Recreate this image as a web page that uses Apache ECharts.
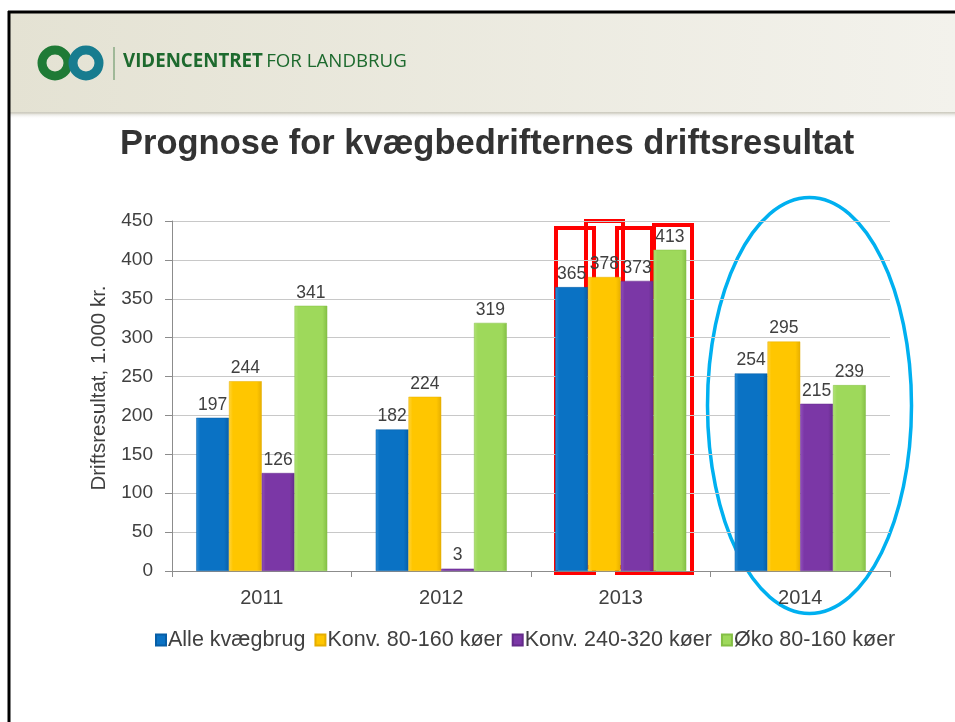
<!DOCTYPE html>
<html>
<head>
<meta charset="utf-8">
<script src="https://cdn.jsdelivr.net/npm/echarts@6/dist/echarts.min.js"></script>
<style>
html, body { margin: 0; padding: 0; background: #fff; }
#chart { width: 955px; height: 722px; }
</style>
</head>
<body>
<div id="chart"></div>
<script>
// data
var years = ['2011', '2012', '2013', '2014'];
var seriesNames = ['Alle kvægbrug', 'Konv. 80-160 køer', 'Konv. 240-320 køer', 'Øko 80-160 køer'];
var alleKvaegbrug = [197, 182, 365, 254];
var konv80 = [244, 224, 378, 295];
var konv240 = [126, 3, 373, 215];
var oko80 = [341, 319, 413, 239];
var yTicks = [0, 50, 100, 150, 200, 250, 300, 350, 400, 450];

var colors = [
    ['#2b8fd9', '#0a72c4', '#075ea6'],
    ['#ffd43a', '#ffc600', '#e6ae00'],
    ['#9050bb', '#7b37a6', '#642b8a'],
    ['#b0e274', '#9ed95b', '#84bf45']
];

function grad(c) {
    return new echarts.graphic.LinearGradient(0, 0, 1, 0, [
        {offset: 0, color: c[0]},
        {offset: 0.12, color: c[1]},
        {offset: 0.85, color: c[1]},
        {offset: 1, color: c[2]}
    ]);
}

var values = [alleKvaegbrug, konv80, konv240, oko80];
var font = 'Liberation Sans, Arial, sans-serif';

var series = values.map(function (v, i) {
    return {
        name: seriesNames[i],
        type: 'bar',
        data: v,
        barGap: '0%',
        barCategoryGap: '27%',
        itemStyle: {color: grad(colors[i]), borderColor: colors[i][2], borderWidth: 0.5},
        label: {
            show: true,
            position: 'top',
            distance: 4,
            fontFamily: font,
            fontSize: 17.5,
            color: '#404040'
        }
    };
});

var chart = echarts.init(document.getElementById('chart'));
var option = {
    backgroundColor: '#fff',
    animation: false,
    color: colors.map(function (c) { return c[1]; }),
    title: {
        text: 'Prognose for kvægbedrifternes driftsresultat',
        left: 115,
        top: 122,
        textStyle: {fontFamily: font, fontSize: 34.5, fontWeight: 'bold', color: '#333333'}
    },
    grid: {left: 172, right: 65, top: 221, bottom: 151, containLabel: false},
    legend: {
        data: seriesNames,
        top: 624,
        left: 150,
        itemWidth: 10,
        itemHeight: 11,
        itemGap: 9,
        icon: 'rect',
        textStyle: {fontFamily: font, fontSize: 21.5, color: '#404040', padding: [0, 0, 0, -3]}
    },
    xAxis: {
        type: 'category',
        data: years,
        axisLine: {lineStyle: {color: '#8c8c8c'}},
        axisTick: {show: true, length: 6, lineStyle: {color: '#8c8c8c'}},
        axisLabel: {fontFamily: font, fontSize: 20, color: '#404040', margin: 17}
    },
    yAxis: {
        type: 'value',
        min: 0,
        max: 450,
        interval: 50,
        name: 'Driftsresultat, 1.000 kr.',
        nameLocation: 'middle',
        nameRotate: 90,
        nameGap: 62,
        nameTextStyle: {fontFamily: font, fontSize: 20.5, color: '#404040', padding: [0, 0, 0, 16]},
        axisLine: {show: true, lineStyle: {color: '#8c8c8c'}},
        axisTick: {show: true, length: 7, lineStyle: {color: '#8c8c8c'}},
        axisLabel: {fontFamily: font, fontSize: 19, color: '#404040', margin: 19,
            formatter: function (v) { return yTicks.indexOf(v) >= 0 ? String(v) : ''; }},
        splitLine: {lineStyle: {color: '#c8c8c8'}}
    },
    series: series,
    graphic: [
        // header band
        {type: 'rect', shape: {x: 8, y: 12, width: 947, height: 102}, z: -1,
            style: {fill: new echarts.graphic.LinearGradient(0, 0, 1, 0, [
                {offset: 0, color: '#e4e2d3'}, {offset: 1, color: '#f3f2ec'}])}},
        {type: 'rect', shape: {x: 8, y: 112, width: 947, height: 7}, z: -1,
            style: {fill: new echarts.graphic.LinearGradient(0, 0, 0, 1, [
                {offset: 0, color: '#c9c7bb'}, {offset: 1, color: 'rgba(255,255,255,0)'}])}},
        // slide border
        {type: 'line', shape: {x1: 8, y1: 12, x2: 955, y2: 12}, style: {stroke: '#000', lineWidth: 3}},
        {type: 'line', shape: {x1: 9, y1: 11, x2: 9, y2: 722}, style: {stroke: '#000', lineWidth: 3}},
        // logo
        {type: 'circle', shape: {cx: 55, cy: 63, r: 13}, style: {fill: 'none', stroke: '#1f7a36', lineWidth: 9}},
        {type: 'circle', shape: {cx: 86, cy: 63, r: 13}, style: {fill: 'none', stroke: '#177c8f', lineWidth: 9}},
        {type: 'line', shape: {x1: 114, y1: 47, x2: 114, y2: 80}, style: {stroke: '#5b8d5b', lineWidth: 1}},
        {type: 'text', x: 123, y: 52,
            style: {text: '{b|VIDENCENTRET} {n|FOR LANDBRUG}', fill: '#1d6a2e',
                rich: {
                    b: {fontFamily: 'Open Sans, sans-serif', fontSize: 18.7, fontWeight: 'bold', fill: '#1d6a2e'},
                    n: {fontFamily: 'Open Sans, sans-serif', fontSize: 18.7, fill: '#1d6a2e'}
                }}},
        // red boxes round 2013
        {type: 'rect', shape: {x: 556, y: 228, width: 38, height: 345}, style: {fill: 'none', stroke: '#ff0000', lineWidth: 4}},
        {type: 'rect', shape: {x: 586, y: 221, width: 37, height: 346}, style: {fill: 'none', stroke: '#ff0000', lineWidth: 4}},
        {type: 'rect', shape: {x: 617, y: 228, width: 35, height: 345}, style: {fill: 'none', stroke: '#ff0000', lineWidth: 4}},
        {type: 'rect', shape: {x: 654, y: 225, width: 38, height: 348}, style: {fill: 'none', stroke: '#ff0000', lineWidth: 4}},
        // blue ellipse round 2014
        {type: 'ellipse', shape: {cx: 809.5, cy: 405.5, rx: 102, ry: 208}, style: {fill: 'none', stroke: '#00b0f0', lineWidth: 3.5}}
    ]
};
chart.setOption(option);
</script>
</body>
</html>
